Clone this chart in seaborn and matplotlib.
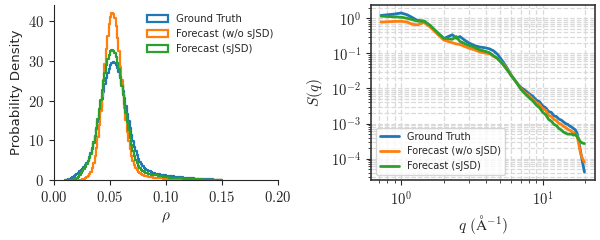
import numpy as np
import pandas as pd
import matplotlib
matplotlib.use("Agg")
import matplotlib.pyplot as plt
import matplotlib.ticker as mticker
from matplotlib.patches import Patch
import seaborn as sns

sns.set_style("ticks")
plt.rcParams['font.family'] = ['DejaVu Sans']
plt.rcParams['mathtext.fontset'] = 'cm'

# ---- density histograms ----
# fine bins (0.00125) over the peak 0.010-0.090, coarse bins (0.0025) over the tail 0.090-0.150
fine_edges = 0.01 + 0.00125 * np.arange(65)
tail_edges = 0.09 + 0.0025 * np.arange(1, 25)
edges = np.concatenate([fine_edges, tail_edges])
rho_centers = (edges[:-1] + edges[1:]) / 2

gt_density = [0, 0.05, 0.15, 0.35, 0.5, 0.75, 1.0, 1.25,
              1.55, 1.85, 2.15, 2.5, 2.85, 3.25, 3.7, 4.25,
              4.9, 5.8, 6.8, 8.1, 9.6, 11.2, 12.9, 14.7,
              16.6, 18.5, 20.4, 22.3, 24.1, 25.7, 27.0, 28.1,
              29.0, 29.5, 29.7, 29.5, 29.0, 28.2, 27.1, 25.7,
              24.1, 22.4, 20.6, 18.7, 16.7, 14.8, 13.0, 11.3,
              9.8, 8.4, 7.3, 6.3, 5.4, 4.6, 4.0, 3.5,
              3.1, 2.8, 2.5, 2.3, 2.15, 2.0, 1.85, 1.75,
              # tail
              1.6, 1.45, 1.3, 1.2, 1.1, 1.0, 0.9, 0.82,
              0.75, 0.67, 0.6, 0.53, 0.47, 0.41, 0.36, 0.31,
              0.27, 0.23, 0.19, 0.16, 0.13, 0.10, 0.07, 0.05]
fc_nosjsd_density = [0, 0, 0, 0, 0, 0, 0, 0,
                     0, 0, 0.05, 0.1, 0.2, 0.3, 0.5, 0.75,
                     1.05, 1.5, 2.1, 3.0, 4.3, 6.0, 8.1, 10.8,
                     13.9, 17.4, 21.2, 25.2, 29.2, 33.0, 36.4, 39.2,
                     41.0, 42.0, 41.9, 40.8, 38.8, 35.9, 32.4, 28.6,
                     25.2, 21.6, 18.2, 15.0, 12.2, 9.8, 7.8, 6.1,
                     4.8, 3.8, 3.0, 2.4, 2.0, 1.7, 1.45, 1.3,
                     1.1, 1.0, 0.92, 0.84, 0.76, 0.7, 0.64, 0.58,
                     # tail
                     0.52, 0.45, 0.39, 0.33, 0.28, 0.24, 0.2, 0.17,
                     0.14, 0.12, 0.1, 0.08, 0.065, 0.05, 0.04, 0.03,
                     0.02, 0.015, 0.01, 0, 0, 0, 0, 0]
fc_sjsd_density = [0, 0, 0, 0, 0, 0.05, 0.15, 0.3,
                   0.55, 0.85, 1.2, 1.65, 2.15, 2.75, 3.4, 4.1,
                   4.8, 5.6, 6.6, 7.9, 9.4, 11.2, 13.2, 15.4,
                   17.8, 20.2, 22.6, 24.9, 27.0, 28.9, 30.4, 31.6,
                   32.4, 32.7, 32.6, 32.0, 31.0, 29.6, 27.9, 25.9,
                   23.7, 21.4, 19.1, 16.8, 14.6, 12.5, 10.6, 8.9,
                   7.4, 6.1, 5.0, 4.2, 3.5, 3.0, 2.6, 2.3,
                   2.05, 1.85, 1.7, 1.57, 1.46, 1.37, 1.29, 1.22,
                   # tail
                   1.15, 1.02, 0.9, 0.8, 0.7, 0.62, 0.55, 0.49,
                   0.44, 0.39, 0.34, 0.3, 0.27, 0.23, 0.2, 0.17,
                   0.15, 0.12, 0.1, 0.08, 0.06, 0.05, 0.04, 0.03]

# ---- structure factor ----
q_vals = [0.72, 0.8, 0.9, 1.0, 1.1, 1.2, 1.3, 1.45, 1.6, 1.8,
          2.0, 2.15, 2.3, 2.45, 2.6, 2.8, 3.0, 3.3, 3.6, 3.9,
          4.2, 4.5, 4.8, 5.2, 5.6, 6.0, 6.5, 7.0, 7.5, 8.0,
          8.5, 9.0, 9.5, 10.0, 10.5, 11.0, 11.5, 12.0, 12.5, 13.0,
          13.5, 14.0, 14.5, 15.0, 15.5, 16.0, 16.5, 17.0, 17.5, 18.0,
          18.5, 19.0, 19.7]
log_s_gt = [0.08, 0.10, 0.12, 0.15, 0.10, 0.02, -0.06, -0.08, -0.22, -0.42,
            -0.58, -0.52, -0.47, -0.57, -0.52, -0.62, -0.70, -0.78, -0.82, -0.84,
            -0.87, -0.93, -1.03, -1.22, -1.42, -1.62, -1.82, -1.97, -2.05, -2.15,
            -2.22, -2.33, -2.38, -2.50, -2.55, -2.66, -2.68, -2.78, -2.80, -2.87,
            -2.90, -2.95, -3.00, -3.02, -3.07, -3.10, -3.14, -3.18, -3.28, -3.50,
            -3.80, -4.05, -4.38]
log_s_nosjsd = [-0.11, -0.10, -0.09, -0.085, -0.11, -0.17, -0.19, -0.12, -0.25, -0.45,
                -0.62, -0.66, -0.70, -0.73, -0.75, -0.80, -0.85, -0.90, -0.96, -0.99,
                -1.01, -1.08, -1.15, -1.28, -1.45, -1.63, -1.82, -2.00, -2.12, -2.20,
                -2.30, -2.40, -2.46, -2.58, -2.62, -2.76, -2.80, -2.88, -2.92, -2.99,
                -3.02, -3.08, -3.11, -3.16, -3.19, -3.22, -3.26, -3.30, -3.35, -3.60,
                -3.85, -3.98, -4.10]
log_s_sjsd = [0.06, 0.05, 0.04, 0.03, 0.0, -0.04, -0.08, -0.085, -0.20, -0.40,
              -0.57, -0.58, -0.60, -0.52, -0.66, -0.72, -0.77, -0.83, -0.90, -0.94,
              -0.98, -1.07, -1.15, -1.30, -1.47, -1.64, -1.82, -2.02, -2.15, -2.26,
              -2.35, -2.47, -2.55, -2.68, -2.75, -2.88, -2.93, -3.02, -3.06, -3.14,
              -3.18, -3.24, -3.27, -3.30, -3.30, -3.30, -3.33, -3.31, -3.38, -3.45,
              -3.52, -3.55, -3.57]

labels = ['Ground Truth', 'Forecast (w/o sJSD)', 'Forecast (sJSD)']
colors = ['#1f77b4', '#ff7f0e', '#2ca02c']

fig = plt.figure(figsize=(6, 2.4), dpi=100)
ax1 = fig.add_axes([0.09, 0.25, 0.373, 0.729])
ax2 = fig.add_axes([0.618, 0.25, 0.373, 0.729])

# left panel: step histograms
for dens, col in zip([gt_density, fc_nosjsd_density, fc_sjsd_density], colors):
    hist_df = pd.DataFrame({'rho': rho_centers, 'dens': dens})
    sns.histplot(data=hist_df, x='rho', weights='dens', bins=list(edges),
                 element='step', fill=False, color=col, linewidth=1.6, ax=ax1)
ax1.set_xlim(0, 0.2)
ax1.set_ylim(0, 44.1)
ax1.set_xticks([0, 0.05, 0.1, 0.15, 0.2])
ax1.set_yticks([0, 10, 20, 30, 40])
ax1.xaxis.set_major_formatter(mticker.FuncFormatter(lambda v, p: '$%.2f$' % v))
ax1.yaxis.set_major_formatter(mticker.FuncFormatter(lambda v, p: '$%d$' % v))
ax1.tick_params(labelsize=10.5)
ax1.set_xlabel(r'$\rho$', fontsize=11)
ax1.set_ylabel('Probability Density', fontsize=9.5)
sns.despine(ax=ax1)
handles = [Patch(facecolor='none', edgecolor=c, linewidth=1.6) for c in colors]
ax1.legend(handles, labels, loc='upper right', frameon=False, fontsize=7.3,
           bbox_to_anchor=(1.02, 1.0))

# right panel: S(q)
sq = pd.DataFrame({
    'q': q_vals * 3,
    'S': 10 ** np.array(log_s_gt + log_s_nosjsd + log_s_sjsd),
    'model': sum([[lab] * len(q_vals) for lab in labels], []),
})
sns.lineplot(data=sq, x='q', y='S', hue='model', palette=colors,
             linewidth=2, ax=ax2)
ax2.set_xscale('log')
ax2.set_yscale('log')
ax2.grid(True, which='both', linestyle='--', color='#d9d9d9', linewidth=0.9)
ax2.set_axisbelow(True)
ax2.xaxis.set_major_formatter(mticker.FuncFormatter(
    lambda v, p: '$10^{%d}$' % int(round(np.log10(v)))))
ax2.yaxis.set_major_formatter(mticker.FuncFormatter(
    lambda v, p: '$10^{%d}$' % int(round(np.log10(v)))))
ax2.xaxis.set_minor_formatter(mticker.NullFormatter())
ax2.yaxis.set_minor_formatter(mticker.NullFormatter())
ax2.yaxis.set_major_locator(mticker.LogLocator(base=10, numticks=10))
ax2.tick_params(labelsize=10.5)
for sp in ax2.spines.values():
    sp.set_color('#333333')
    sp.set_linewidth(1.2)
ax2.set_xlabel(r'$q\ (\mathrm{Å}^{-1})$', fontsize=11)
ax2.set_ylabel(r'$S(q)$', fontsize=11)
ax2.legend(loc='lower left', fontsize=7, title=None, framealpha=0.8)

fig.savefig('out.png', dpi=100)
